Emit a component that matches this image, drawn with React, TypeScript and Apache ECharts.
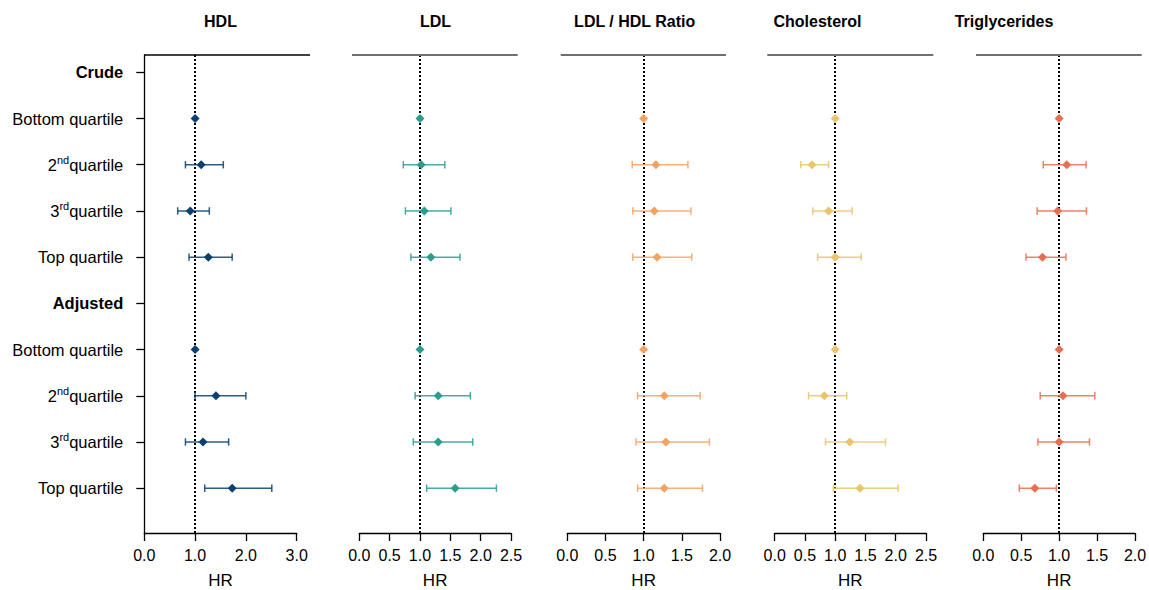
import React, { useEffect, useRef } from 'react';
import * as echarts from 'echarts';

// ---------- data ----------
const rowLabels = [
  'Crude', 'Bottom quartile', '2nd quartile', '3rd quartile', 'Top quartile',
  'Adjusted', 'Bottom quartile', '2nd quartile', '3rd quartile', 'Top quartile',
];
const headerRows = [0, 5];
const panelTitles = ['HDL', 'LDL', 'LDL / HDL Ratio', 'Cholesterol', 'Triglycerides'];
const panelColors = ['#0b3f70', '#2a9d8f', '#f4a261', '#e9c46a', '#e76f51'];
const axisMax = [3, 2.5, 2, 2.5, 2];
const axisStep = [1, 0.5, 0.5, 0.5, 0.5];

// hazard ratio, lower CI, upper CI per row (null = header row / reference without CI)
const hdlHR = [null, 1.0, 1.12, 0.905, 1.26, null, 1.0, 1.41, 1.155, 1.73];
const hdlLow = [null, null, 0.81, 0.657, 0.88, null, null, 1.0, 0.81, 1.19];
const hdlHigh = [null, null, 1.555, 1.28, 1.73, null, null, 2.0, 1.66, 2.51];

const ldlHR = [null, 1.0, 1.02, 1.07, 1.18, null, 1.0, 1.3, 1.3, 1.58];
const ldlLow = [null, null, 0.725, 0.76, 0.85, null, null, 0.92, 0.89, 1.11];
const ldlHigh = [null, null, 1.41, 1.51, 1.66, null, null, 1.83, 1.87, 2.26];

const ratioHR = [null, 1.0, 1.16, 1.14, 1.175, null, 1.0, 1.27, 1.29, 1.27];
const ratioLow = [null, null, 0.85, 0.857, 0.857, null, null, 0.92, 0.9, 0.92];
const ratioHigh = [null, null, 1.58, 1.62, 1.63, null, null, 1.74, 1.86, 1.77];

const cholHR = [null, 1.0, 0.617, 0.89, 1.0, null, 1.0, 0.82, 1.24, 1.41];
const cholLow = [null, null, 0.43, 0.63, 0.71, null, null, 0.56, 0.84, 0.97];
const cholHigh = [null, null, 0.89, 1.28, 1.43, null, null, 1.19, 1.83, 2.04];

const trigHR = [null, 1.0, 1.1, 0.98, 0.78, null, 1.0, 1.05, 1.0, 0.68];
const trigLow = [null, null, 0.79, 0.71, 0.563, null, null, 0.75, 0.72, 0.475];
const trigHigh = [null, null, 1.355, 1.36, 1.09, null, null, 1.47, 1.4, 0.963];

const panelData = [
  [hdlHR, hdlLow, hdlHigh],
  [ldlHR, ldlLow, ldlHigh],
  [ratioHR, ratioLow, ratioHigh],
  [cholHR, cholLow, cholHigh],
  [trigHR, trigLow, trigHigh],
];

// ---------- layout ----------
const FONT = '"Liberation Sans", Arial, Helvetica, sans-serif';
const gridLeft = [144.3, 359.3, 567.3, 774.7, 983.3];
const gridWidth = [152.4, 151.7, 152.7, 151.3, 151.7];
const topLineX1 = [144.3, 352, 560.7, 767.3, 976];
const topLineX2 = [310, 517.7, 726, 933.3, 1141.7];
const titleX = [220.5, 435.5, 634.7, 817.5, 1004];
const GRID_TOP = 55;
const GRID_H = 478;

function labelFormatter(v: number) {
  const i = Math.round(v);
  const t = rowLabels[i] || '';
  if (headerRows.includes(i)) return `{b|${t}}`;
  const m = t.match(/^(\d)(st|nd|rd|th) (.*)$/);
  if (m) return `{n|${m[1]}}{s|${m[2]}}{n|${m[3]}}`;
  return `{n|${t}}`;
}

export default function App() {
  const ref = useRef<HTMLDivElement>(null);
  useEffect(() => {
    if (!ref.current) return;
    const chart = echarts.init(ref.current, undefined, { renderer: 'svg' });
    const rows = rowLabels.map((_, i) => i);

    const grids = panelTitles.map((_, i) => ({
      left: gridLeft[i], width: gridWidth[i], top: GRID_TOP, height: GRID_H,
      containLabel: false,
      outerBoundsMode: 'none',
    }));

    const xAxes = panelTitles.map((_, i) => ({
      gridIndex: i,
      type: 'value',
      position: 'bottom',
      min: 0,
      max: axisMax[i],
      interval: axisStep[i],
      axisLine: { show: true, onZero: false, lineStyle: { color: '#000', width: 1.3 } },
      axisTick: { show: true, length: 8, lineStyle: { color: '#000', width: 1.3 } },
      axisLabel: {
        formatter: (v: number) => v.toFixed(1),
        fontSize: 16, color: '#000', margin: 14, fontFamily: FONT,
        showMinLabel: true, showMaxLabel: true,
      },
      splitLine: { show: false },
      name: 'HR',
      nameLocation: 'middle',
      nameGap: 40,
      nameTextStyle: { fontSize: 17, lineHeight: 14, color: '#000', fontFamily: FONT },
    }));

    const yAxes = panelTitles.map((_, i) => ({
      gridIndex: i,
      type: 'value',
      inverse: true,
      min: -0.375,
      max: 9.97,
      show: i === 0,
      axisLine: { show: true, onZero: false, lineStyle: { color: '#000', width: 1.3 } },
      axisTick: { show: true, length: 8, customValues: rows, lineStyle: { color: '#000', width: 1.3 } },
      axisLabel: {
        customValues: rows,
        formatter: labelFormatter,
        margin: 21,
        rich: {
          n: { fontSize: 16.5, color: '#000', fontFamily: FONT, lineHeight: 20 },
          b: { fontSize: 16.5, color: '#000', fontFamily: FONT, fontWeight: 'bold', lineHeight: 20 },
          s: { fontSize: 11, color: '#000', fontFamily: FONT, verticalAlign: 'top', lineHeight: 12 },
        },
      },
      splitLine: { show: false },
    }));

    const series: any[] = [];
    panelData.forEach(([hr, lo, hi], i) => {
      const color = panelColors[i];
      const bars = rows
        .filter((r) => lo[r] != null && hi[r] != null)
        .map((r) => [lo[r], hi[r], r]);
      const pts = rows.filter((r) => hr[r] != null).map((r) => [hr[r], r]);
      series.push({
        type: 'custom',
        xAxisIndex: i,
        yAxisIndex: i,
        data: bars,
        encode: { x: [0, 1], y: 2 },
        clip: false,
        z: 2,
        renderItem: (params: any, api: any) => {
          const a = api.coord([api.value(0), api.value(2)]);
          const b = api.coord([api.value(1), api.value(2)]);
          const h = 3.7;
          const st = { stroke: color, lineWidth: 1.5, opacity: 0.85 };
          return {
            type: 'group',
            children: [
              { type: 'line', shape: { x1: a[0], y1: a[1], x2: b[0], y2: b[1] }, style: st },
              { type: 'line', shape: { x1: a[0], y1: a[1] - h, x2: a[0], y2: a[1] + h }, style: st },
              { type: 'line', shape: { x1: b[0], y1: b[1] - h, x2: b[0], y2: b[1] + h }, style: st },
            ],
          };
        },
        markLine: {
          silent: true,
          symbol: ['none', 'none'],
          label: { show: false },
          lineStyle: { type: 'dotted', color: '#000', width: 2 },
          data: [{ xAxis: 1 }],
          z: 1,
        },
      });
      series.push({
        type: 'scatter',
        xAxisIndex: i,
        yAxisIndex: i,
        data: pts,
        symbol: 'diamond',
        symbolSize: 9,
        itemStyle: { color, opacity: 1 },
        z: 3,
      });
    });

    const graphics: any[] = [];
    panelTitles.forEach((t, i) => {
      graphics.push({
        type: 'line',
        shape: { x1: topLineX1[i], y1: GRID_TOP, x2: topLineX2[i], y2: GRID_TOP },
        style: { stroke: i === 0 ? '#000' : '#707070', lineWidth: i === 0 ? 1.3 : 2 },
        z: 10,
      });
      graphics.push({
        type: 'text',
        x: titleX[i],
        y: 21,
        style: {
          text: t, align: 'center', verticalAlign: 'middle',
          font: `bold 16px ${FONT}`, fill: '#000',
        },
        z: 10,
      });
    });

    chart.setOption({
      animation: false,
      backgroundColor: '#fff',
      grid: grids,
      xAxis: xAxes,
      yAxis: yAxes,
      series,
      graphic: graphics,
    });
    return () => chart.dispose();
  }, []);
  return (
    <div
      ref={ref}
      style={{ position: 'absolute', left: 0, top: 0, width: 1149, height: 590 }}
    />
  );
}
